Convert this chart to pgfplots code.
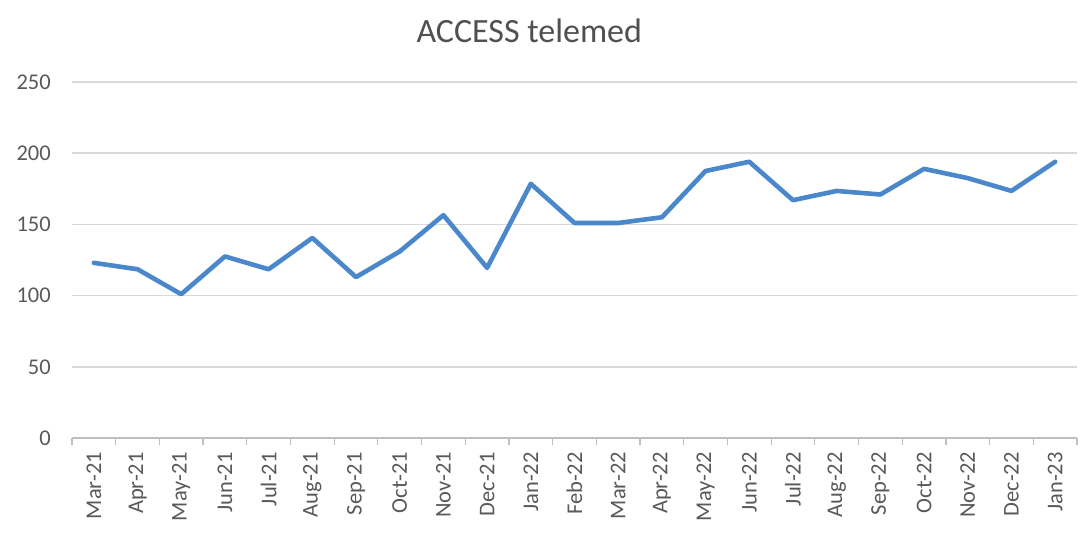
\documentclass[border=0pt]{standalone}
\usepackage{pgfplots}
\pgfplotsset{compat=1.18}
\usepackage{fontspec}
\setmainfont{Carlito}
\definecolor{txtgray}{HTML}{595959}
\definecolor{gridgray}{HTML}{D9D9D9}
\definecolor{axgray}{HTML}{BFBFBF}
\definecolor{lineblue}{HTML}{4A88CB}

\begin{document}
\begin{tikzpicture}
  \begin{axis}[
    scale only axis,
    width=1005pt, height=356pt,
    xmin=-0.5, xmax=22.5,
    ymin=0, ymax=250,
    ytick={0,50,...,250},
    xtick={0,...,22},
    xticklabels={Mar-21,Apr-21,May-21,Jun-21,Jul-21,Aug-21,Sep-21,Oct-21,Nov-21,Dec-21,
      Jan-22,Feb-22,Mar-22,Apr-22,May-22,Jun-22,Jul-22,Aug-22,Sep-22,Oct-22,Nov-22,Dec-22,Jan-23},
    minor xtick={-0.5,0.5,...,22.5},
    axis x line*=bottom,
    axis y line*=left,
    x axis line style={draw=axgray, line width=1.2pt, -},
    y axis line style={draw=none},
    major tick length=0pt,
    minor tick length=7pt,
    tick align=outside,
    minor tick style={draw=axgray, line width=1.2pt},
    ymajorgrids,
    grid style={draw=gridgray, line width=1.4pt},
    /pgf/number format/assume math mode=true,
    ticklabel style={font=\fontsize{22.5}{27}\selectfont, text=txtgray, inner sep=0pt},
    yticklabel style={anchor=east, xshift=-21pt},
    xticklabel style={rotate=90, anchor=east},
    xticklabel shift=14pt,
    title={ACCESS telemed},
    title style={at={(0.455,1)}, anchor=base, yshift=33pt, inner sep=0pt,
      font=\fontsize{34}{40}\selectfont, text=txtgray!90!black},
    clip=false,
  ]
    \addplot[lineblue, line width=4.6pt, line join=round, line cap=round] coordinates {
      (0,123) (1,118.5) (2,101) (3,127.5) (4,118.5) (5,140.5) (6,113) (7,131)
      (8,156.5) (9,119.5) (10,178.5) (11,151) (12,151) (13,155) (14,187.5)
      (15,194) (16,167) (17,173.5) (18,171) (19,189) (20,182.5) (21,173.5) (22,194)
    };
    \coordinate (ll) at (rel axis cs:0,0);
    \coordinate (ur) at (rel axis cs:1,1);
  \end{axis}
  \useasboundingbox ([shift={(-72pt,-94pt)}]ll) rectangle ([shift={(10pt,82pt)}]ur);
\end{tikzpicture}
\end{document}
